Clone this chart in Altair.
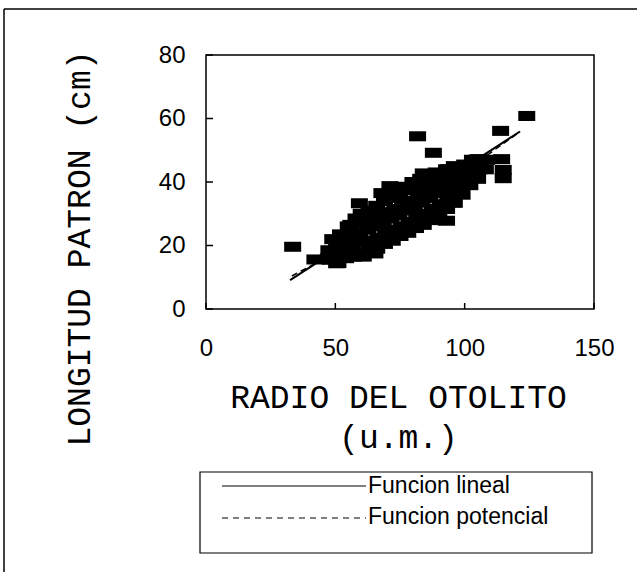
import altair as alt
import pandas as pd

# ---------------- data ----------------
# isolated (outlier) observations
out_x = [124.0, 113.9, 81.8, 87.9, 114.9, 114.9, 105.3, 114.3, 33.5, 42.1, 47.3,
         50.5, 60.8, 93.0, 95.6, 96.9, 59.3, 71.1, 65.3, 84.0, 93.7]
out_y = [60.8, 56.1, 54.4, 49.2, 43.8, 41.2, 47.2, 47.2, 19.6, 15.6, 15.9,
         14.4, 16.5, 27.8, 33.5, 37.0, 33.3, 38.7, 17.5, 42.7, 44.0]

# dense cloud of observations
cloud_x = [48, 47.5, 49,
           51, 51.5, 50.5, 52,
           54, 54.5, 53.5, 55,
           57, 56.5, 57.5, 56, 58,
           60, 60.5, 59.5, 61, 60,
           63, 63.5, 62.5, 64, 63,
           66, 66.5, 65.5, 67, 66,
           69, 69.5, 68.5, 70, 69, 68,
           72, 72.5, 71.5, 73, 72, 74,
           75, 75.5, 74.5, 76, 75, 77,
           78, 78.5, 77.5, 79, 78, 80,
           81, 81.5, 80.5, 82, 81, 83,
           84, 84.5, 83.5, 85, 84, 86,
           87, 87.5, 86.5, 88, 87, 89,
           90, 90.5, 89.5, 91, 90,
           93, 93.5, 92.5, 94, 93,
           96, 96.5, 95.5, 97, 96,
           99, 99.5, 98.5, 100,
           102, 102.5, 101.5, 103,
           105, 105.5, 104.5,
           108, 108.5]
cloud_y = [15.5, 18.5, 22,
           14.5, 17, 20, 23.5,
           16, 19, 22.5, 26,
           16.5, 20, 23, 26.5, 28.5,
           17.5, 21, 24, 27.5, 30,
           18, 21.5, 25, 28, 31,
           19, 22.5, 26, 29.5, 32.5,
           20.5, 24, 27, 30.5, 34, 36.5,
           21.5, 25, 28.5, 31.5, 35, 37,
           23, 26, 29.5, 33, 36, 38.5,
           24, 27.5, 31, 34, 37.5, 40,
           25.5, 29, 32, 35.5, 38.5, 41,
           26.5, 30, 33.5, 37, 40, 42,
           28, 31.5, 35, 38, 41, 43,
           30, 33, 36.5, 39.5, 42.5,
           31.5, 35, 38, 41, 44,
           33.5, 37, 40, 43, 45,
           36, 39.5, 42.5, 45.5,
           39, 42, 45, 47,
           41, 44, 47,
           44, 47]

# fitted curves
lin_x = [32.5, 121.4]
lin_y = [9.1, 55.9]
pot_x = [33.2, 50, 70, 90, 110, 121.4]
pot_y = [10.4, 17.7, 27.4, 37.9, 49.2, 55.9]

# axis ticks / labels
x_ticks = [0, 50, 100, 150]
y_ticks = [0, 20, 40, 60, 80]
x_title = ["RADIO DEL OTOLITO", "(u.m.)"]
y_title = "LONGITUD PATRON (cm)"
legend_labels = ["Funcion lineal", "Funcion potencial"]

# ---------------- chart ----------------
W, H = 388, 254
PAD_L, PAD_T = 206, 55

pts = pd.DataFrame({"x": out_x + cloud_x, "y": out_y + cloud_y})
lin = pd.DataFrame({"x": lin_x, "y": lin_y})
pot = pd.DataFrame({"x": pot_x, "y": pot_y})

xs = alt.Scale(domain=[0, 150], nice=False, zero=False)
ys = alt.Scale(domain=[0, 80], nice=False, zero=False)

x_axis = alt.Axis(values=x_ticks, ticks=False, tickSize=0, domain=False, grid=False,
                  labelFont="Liberation Sans", labelFontSize=24, labelColor="black",
                  labelPadding=27, labelFlush=False,
                  title=x_title, titleFont="Liberation Mono", titleFontSize=33,
                  titleFontWeight="normal", titleColor="black", titleY=98, titleX=192,
                  titleAlign="center", titleBaseline="alphabetic", titleLineHeight=40)
y_axis = alt.Axis(values=y_ticks, ticks=False, tickSize=0, domain=False, grid=False,
                  labelFont="Liberation Sans", labelFontSize=24, labelColor="black",
                  labelPadding=21, labelFlush=False,
                  title=y_title, titleFont="Liberation Mono", titleFontSize=33,
                  titleFontWeight="normal", titleColor="black", titleAngle=270,
                  titleX=-127, titleY=193, titleAlign="center", titleBaseline="middle")

rect_shape = "M-1,-0.59L1,-0.59L1,0.59L-1,0.59Z"

points = alt.Chart(pts).mark_point(shape=rect_shape, filled=True, size=289,
                                   color="black", opacity=1, strokeWidth=0).encode(
    x=alt.X("x:Q", scale=xs, axis=x_axis),
    y=alt.Y("y:Q", scale=ys, axis=y_axis),
)

line_lin = alt.Chart(lin).mark_line(color="black", strokeWidth=2).encode(
    x=alt.X("x:Q", scale=xs, axis=x_axis), y=alt.Y("y:Q", scale=ys, axis=y_axis))
line_pot = alt.Chart(pot).mark_line(color="black", strokeWidth=1.5, strokeDash=[6, 4]).encode(
    x=alt.X("x:Q", scale=xs, axis=x_axis), y=alt.Y("y:Q", scale=ys, axis=y_axis))

# inward tick marks
xt = pd.DataFrame({"x": x_ticks})
yt = pd.DataFrame({"y": y_ticks})
xticks = alt.Chart(xt).mark_rule(color="black", strokeWidth=1.5).encode(
    x=alt.X("x:Q", scale=xs, axis=x_axis), y=alt.value(H), y2=alt.value(H - 6))
yticks = alt.Chart(yt).mark_rule(color="black", strokeWidth=1.5).encode(
    y=alt.Y("y:Q", scale=ys, axis=y_axis), x=alt.value(0), x2=alt.value(7))

one = alt.Data(values=[{}])
# outer frame of the figure
frame_left = alt.Chart(one).mark_rule(color="black", strokeWidth=1.5).encode(
    x=alt.value(4 - PAD_L), y=alt.value(9 - PAD_T), y2=alt.value(700))
frame_top = alt.Chart(one).mark_rule(color="black", strokeWidth=1.5).encode(
    x=alt.value(4 - PAD_L), x2=alt.value(800), y=alt.value(9 - PAD_T))

# legend box
leg_box = alt.Chart(one).mark_rect(fill="white", fillOpacity=0, stroke="black",
                                   strokeWidth=1.2).encode(
    x=alt.value(200 - PAD_L), x2=alt.value(592 - PAD_L),
    y=alt.value(472 - PAD_T), y2=alt.value(553 - PAD_T))
leg_l1 = alt.Chart(one).mark_rule(color="black", strokeWidth=1.2).encode(
    x=alt.value(222 - PAD_L), x2=alt.value(366 - PAD_L), y=alt.value(486 - PAD_T))
leg_l2 = alt.Chart(one).mark_rule(color="black", strokeWidth=1.2, strokeDash=[6, 5]).encode(
    x=alt.value(222 - PAD_L), x2=alt.value(366 - PAD_L), y=alt.value(518 - PAD_T))
leg_t1 = alt.Chart(one).mark_text(font="Liberation Sans", fontSize=23, align="left",
                                  baseline="alphabetic", color="black").encode(
    x=alt.value(368 - PAD_L), y=alt.value(493 - PAD_T), text=alt.value(legend_labels[0]))
leg_t2 = alt.Chart(one).mark_text(font="Liberation Sans", fontSize=23, align="left",
                                  baseline="alphabetic", color="black").encode(
    x=alt.value(368 - PAD_L), y=alt.value(524 - PAD_T), text=alt.value(legend_labels[1]))

chart = alt.layer(
    points, line_lin, line_pot, xticks, yticks,
    frame_left, frame_top, leg_box, leg_l1, leg_l2, leg_t1, leg_t2
).properties(
    width=W, height=H,
    autosize=alt.AutoSizeParams(type="none"),
    padding={"left": PAD_L, "top": PAD_T, "right": 637 - PAD_L - W, "bottom": 572 - PAD_T - H},
    background="white",
).configure_view(stroke="black", strokeWidth=1.5)

chart.save("out.html", embed_options={"renderer": "svg", "actions": False})
